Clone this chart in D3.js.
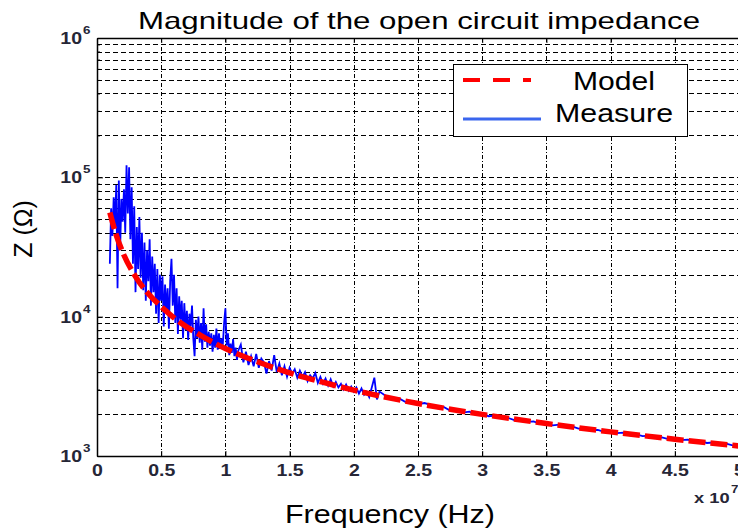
<!DOCTYPE html>
<html>
<head>
<meta charset="utf-8">
<title>Magnitude of the open circuit impedance</title>
<script src="https://cdn.jsdelivr.net/npm/d3@7/dist/d3.min.js"></script>
<style>
    body { margin: 0; background: #fff; }
    svg { display: block; font-family: "Liberation Sans", Arial, sans-serif; }
    .tick-label { font-size: 16px; font-weight: bold; fill: #262636; }
</style>
</head>
<body>
<div id="chart"></div>
<script>
// frequency in units of 1e7 Hz, impedance in ohm
var xTicks = [0, 0.5, 1, 1.5, 2, 2.5, 3, 3.5, 4, 4.5, 5];
var xTickLabels = ["0", "0.5", "1", "1.5", "2", "2.5", "3", "3.5", "4", "4.5", "5"];
var yMajor = [1e3, 1e4, 1e5, 1e6];
var yExponents = ["3", "4", "5", "6"];

var freqModel = [0.1, 0.15, 0.2, 0.3, 0.4, 0.5, 0.6, 0.8, 1.0, 1.25, 1.5, 1.75, 2.0, 2.5, 3.0, 3.5, 4.0, 4.5, 5.0];
var zModel = [56000, 38500, 29000, 19400, 14600, 11800, 9800, 7400, 5900, 4750, 3950, 3400, 2970, 2380, 1990, 1710, 1490, 1320, 1180];

var freqMeas = [
    0.10, 0.11, 0.12, 0.13, 0.14, 0.15, 0.16, 0.17, 0.18, 0.19,
    0.20, 0.21, 0.22, 0.23, 0.24, 0.25, 0.26, 0.27, 0.28, 0.29,
    0.30, 0.31, 0.32, 0.33, 0.34, 0.35, 0.36, 0.37, 0.38, 0.39,
    0.40, 0.41, 0.42, 0.43, 0.44, 0.45, 0.46, 0.47, 0.48, 0.49,
    0.50, 0.51, 0.52, 0.53, 0.54, 0.55, 0.56, 0.57, 0.58, 0.59,
    0.60, 0.61, 0.62, 0.63, 0.64, 0.65, 0.66, 0.67, 0.68, 0.69,
    0.70, 0.71, 0.72, 0.73, 0.74, 0.75, 0.76, 0.77, 0.78, 0.79,
    0.80, 0.81, 0.82, 0.83, 0.84, 0.85, 0.86, 0.87, 0.88, 0.89,
    0.90, 0.91, 0.92, 0.93, 0.94, 0.95, 0.96, 0.97, 0.98, 0.99,
    1.00, 1.01, 1.02, 1.03, 1.04, 1.05, 1.06, 1.07, 1.08, 1.09, 1.10,
    1.12, 1.14, 1.16, 1.18, 1.20, 1.22, 1.24, 1.26, 1.28, 1.30,
    1.32, 1.34, 1.36, 1.38, 1.40, 1.42, 1.44, 1.46, 1.48, 1.50,
    1.52, 1.54, 1.56, 1.58, 1.60, 1.62, 1.64, 1.66, 1.68, 1.70,
    1.72, 1.74, 1.76, 1.78, 1.80, 1.82, 1.84, 1.86, 1.88, 1.90,
    1.92, 1.94, 1.96, 1.98, 2.00, 2.02, 2.04, 2.06, 2.08, 2.10,
    2.12, 2.14, 2.16, 2.18, 2.20,
    2.25, 2.30, 2.35, 2.40, 2.45, 2.50, 2.55, 2.60, 2.65, 2.70,
    2.75, 2.80, 2.85, 2.90, 2.95, 3.00, 3.05, 3.10, 3.15, 3.20,
    3.25, 3.30, 3.35, 3.40, 3.45, 3.50, 3.55, 3.60, 3.65, 3.70,
    3.75, 3.80, 3.85, 3.90, 3.95, 4.00, 4.05, 4.10, 4.15, 4.20,
    4.25, 4.30, 4.35, 4.40, 4.45, 4.50, 4.55, 4.60, 4.65, 4.70,
    4.75, 4.80, 4.85, 4.90, 4.95, 5.00
];
var zMeas = [
    24000, 60000, 38000, 72000, 45000, 88000, 16000, 95000, 30000, 70000,
    48000, 82000, 40000, 122000, 55000, 118000, 36000, 85000, 24000, 62000,
    15000, 44000, 22000, 52000, 19000, 40000, 15500, 34000, 13000, 30000,
    18000, 36000, 12000, 27000, 15000, 24000, 10500, 22000, 9000, 20000,
    13000, 19500, 8500, 17000, 11000, 16000, 8200, 18000, 26000, 12000,
    20000, 9000, 16000, 7500, 14000, 9500, 13000, 7000, 12500, 8000,
    11000, 6800, 10500, 8500, 12000, 7000, 5200, 9500, 7000, 10000,
    6500, 9000, 5800, 11500, 6600, 8800, 6000, 7800, 6200, 7600,
    5600, 7400, 6000, 8200, 5800, 7600, 5900, 7000, 6300, 9000,
    11500, 6200, 7600, 5300, 6400, 5500, 6900, 5200, 6000, 4900, 5700,
    6300, 4700, 5600, 4500, 5200, 4400, 5400, 4300, 5000, 4700,
    3900, 4800, 4100, 5300, 4000, 4600, 3800, 4400, 3700, 4300,
    3900, 4200, 3650, 4100, 3700, 4000, 3450, 3800, 3600, 3950,
    3350, 3700, 3300, 3600, 3200, 3550, 3150, 3400, 3100, 3300,
    3000, 3250, 2950, 3150, 2900, 3100, 2800, 3050, 2750, 2900,
    2650, 3100, 3650, 2550, 2900,
    2700, 2560, 2600, 2450, 2480, 2350, 2400, 2330, 2200, 2250,
    2120, 2160, 2050, 2080, 1990, 2010, 1930, 1950, 1870, 1880,
    1810, 1830, 1760, 1770, 1700, 1720, 1660, 1680, 1610, 1630,
    1570, 1590, 1530, 1540, 1490, 1500, 1460, 1470, 1410, 1430,
    1390, 1400, 1350, 1360, 1320, 1335, 1300, 1310, 1270, 1280,
    1240, 1250, 1215, 1225, 1190, 1185
];

var width = 738, height = 528;
var plotLeft = 97, plotRight = 739, plotTop = 38, plotBottom = 456;
var stretch = 1.22;

var svg = d3.select("#chart").append("svg")
    .attr("width", width)
    .attr("height", height);

var x = d3.scaleLinear().domain([0, 5]).range([plotLeft, plotRight]);
var y = d3.scaleLog().domain([1e3, 1e6]).range([plotBottom, plotTop]);

// the reference picture is stretched sideways, so text is too
function widen(sel, k) {
    sel.each(function() {
        var t = d3.select(this);
        var tx = +t.attr("x") || 0, ty = +t.attr("y") || 0;
        t.attr("x", 0).attr("y", 0)
            .attr("transform", "translate(" + tx + "," + ty + ") scale(" + k + ",1)");
    });
}

svg.append("clipPath").attr("id", "plot-clip")
    .append("rect")
    .attr("x", plotLeft).attr("y", plotTop)
    .attr("width", plotRight - plotLeft).attr("height", plotBottom - plotTop);

// grid
svg.append("g")
    .selectAll("line")
    .data(y.ticks().filter(function(d) { return d > 1e3 && d < 1e6; }))
    .enter().append("line")
    .attr("x1", plotLeft).attr("x2", plotRight)
    .attr("y1", function(d) { return Math.round(y(d)) + 0.5; })
    .attr("y2", function(d) { return Math.round(y(d)) + 0.5; })
    .attr("stroke", "#000")
    .attr("stroke-width", 1)
    .attr("stroke-dasharray", "5,3");

svg.append("g")
    .selectAll("line")
    .data(xTicks.filter(function(d) { return d > 0 && d < 5; }))
    .enter().append("line")
    .attr("x1", function(d) { return Math.round(x(d)) + 0.5; })
    .attr("x2", function(d) { return Math.round(x(d)) + 0.5; })
    .attr("y1", plotTop).attr("y2", plotBottom)
    .attr("stroke", "#000")
    .attr("stroke-width", 1)
    .attr("stroke-dasharray", "4,2,1,2");

// data
var measure = freqMeas.map(function(f, i) { return [f, zMeas[i]]; });
var model = freqModel.map(function(f, i) { return [f, zModel[i]]; });

var plot = svg.append("g").attr("clip-path", "url(#plot-clip)");

plot.append("path")
    .datum(measure)
    .attr("fill", "none")
    .attr("stroke", "#0000ff")
    .attr("stroke-width", 1.8)
    .attr("d", d3.line()
        .x(function(d) { return x(d[0]); })
        .y(function(d) { return y(d[1]); }));

plot.append("path")
    .datum(model)
    .attr("fill", "none")
    .attr("stroke", "#ff0000")
    .attr("stroke-width", 5.5)
    .attr("stroke-dasharray", "17,5")
    .attr("d", d3.line()
        .curve(d3.curveMonotoneX)
        .x(function(d) { return x(d[0]); })
        .y(function(d) { return y(d[1]); }));

// axes
var xAxis = svg.append("g")
    .attr("transform", "translate(0," + plotBottom + ")")
    .call(d3.axisBottom(x)
        .tickValues(xTicks)
        .tickFormat(function(d, i) { return xTickLabels[i]; })
        .tickSizeInner(-5)
        .tickSizeOuter(0));
xAxis.select(".domain").attr("stroke-width", 1.5);
xAxis.selectAll("text")
    .attr("class", "tick-label")
    .attr("y", 20).attr("dy", null)
    .call(widen, stretch);

var topAxis = svg.append("g")
    .attr("transform", "translate(0," + plotTop + ")")
    .call(d3.axisTop(x).tickValues(xTicks).tickFormat("").tickSizeInner(-5).tickSizeOuter(0));
topAxis.select(".domain").attr("stroke-width", 1.5);

var yAxis = svg.append("g")
    .attr("transform", "translate(" + plotLeft + ",0)")
    .call(d3.axisLeft(y).tickValues(y.ticks()).tickFormat("").tickSizeOuter(0));
yAxis.select(".domain").attr("stroke-width", 1.5);
yAxis.selectAll(".tick line")
    .attr("x2", function(d) { return yMajor.indexOf(d) >= 0 ? 6 : 3; });

// y tick labels as 10 with superscript
var yLabels = svg.append("g");
yLabels.selectAll(".base")
    .data(yMajor)
    .enter().append("text")
    .attr("class", "tick-label base")
    .attr("text-anchor", "end")
    .attr("x", 82)
    .attr("y", function(d) { return y(d) + 6; })
    .text("10")
    .call(widen, stretch);
yLabels.selectAll(".exp")
    .data(yMajor)
    .enter().append("text")
    .attr("class", "tick-label exp")
    .style("font-size", "11px")
    .attr("x", 83)
    .attr("y", function(d) { return y(d) - 4; })
    .text(function(d, i) { return yExponents[i]; })
    .call(widen, stretch);

// x 10^7 multiplier
svg.append("text")
    .attr("class", "tick-label")
    .style("font-size", "15px")
    .attr("x", 694).attr("y", 503)
    .text("x 10")
    .call(widen, stretch);
svg.append("text")
    .attr("class", "tick-label")
    .style("font-size", "11px")
    .attr("x", 731).attr("y", 493)
    .text("7")
    .call(widen, stretch);

// titles
svg.append("text")
    .attr("x", 138).attr("y", 29)
    .attr("textLength", 562)
    .attr("lengthAdjust", "spacingAndGlyphs")
    .style("font-size", "24px")
    .text("Magnitude of the open circuit impedance");

svg.append("text")
    .attr("x", 285).attr("y", 523)
    .attr("textLength", 210)
    .attr("lengthAdjust", "spacingAndGlyphs")
    .style("font-size", "25px")
    .text("Frequency (Hz)");

svg.append("text")
    .attr("transform", "translate(32,229) rotate(-90)")
    .attr("text-anchor", "middle")
    .style("font-size", "25px")
    .text("Z (\u03A9)");

// legend
var legend = svg.append("g");
legend.append("rect")
    .attr("x", 453.5).attr("y", 64.5)
    .attr("width", 234).attr("height", 72)
    .attr("fill", "#fff")
    .attr("stroke", "#000")
    .attr("stroke-width", 1);
legend.append("line")
    .attr("x1", 463).attr("x2", 531)
    .attr("y1", 80).attr("y2", 80)
    .attr("stroke", "#ff0000")
    .attr("stroke-width", 4)
    .attr("stroke-dasharray", "17,13");
legend.append("line")
    .attr("x1", 463).attr("x2", 541)
    .attr("y1", 119).attr("y2", 119)
    .attr("stroke", "#3a66ee")
    .attr("stroke-width", 3);
legend.append("text")
    .attr("x", 573).attr("y", 90)
    .attr("textLength", 82)
    .attr("lengthAdjust", "spacingAndGlyphs")
    .style("font-size", "25px")
    .text("Model");
legend.append("text")
    .attr("x", 555).attr("y", 122)
    .attr("textLength", 118)
    .attr("lengthAdjust", "spacingAndGlyphs")
    .style("font-size", "25px")
    .text("Measure");
</script>
</body>
</html>
